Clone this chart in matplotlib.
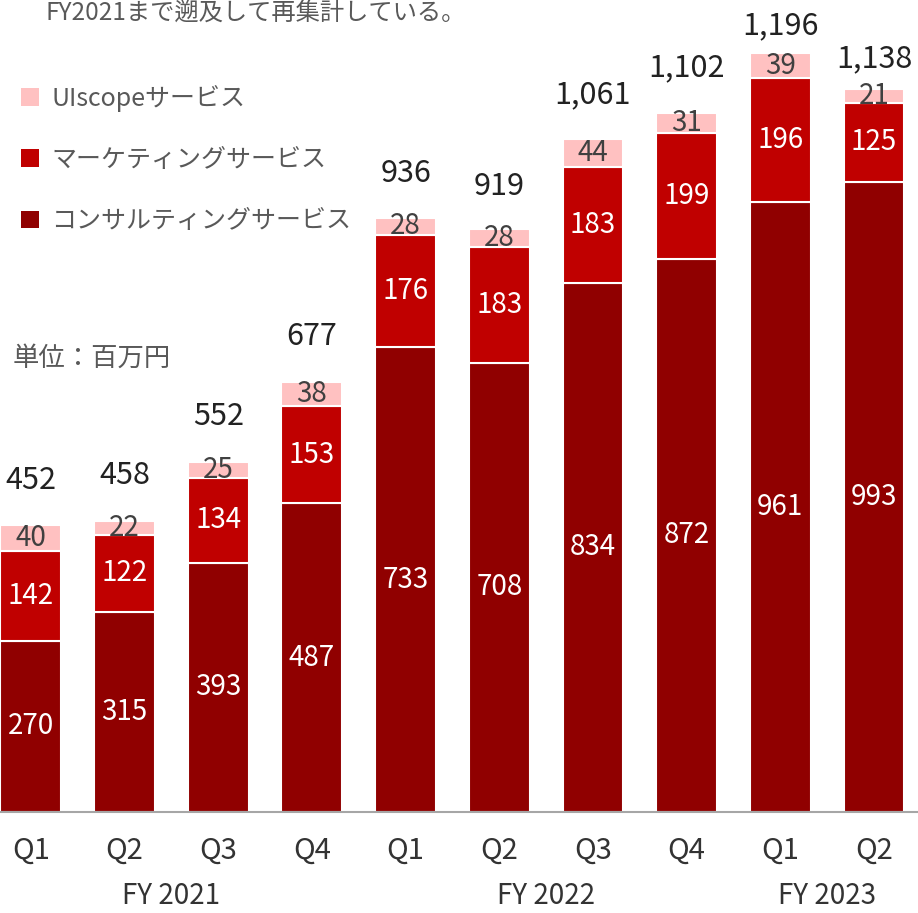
import numpy as np
import matplotlib
matplotlib.use("Agg")
import matplotlib.pyplot as plt
from matplotlib.patches import Patch

plt.rcParams['font.family'] = ['Noto Sans CJK JP', 'DejaVu Sans']

# data
quarters = ['Q1', 'Q2', 'Q3', 'Q4', 'Q1', 'Q2', 'Q3', 'Q4', 'Q1', 'Q2']
fiscal_years = ['FY 2021', 'FY 2022', 'FY 2023']
fy_centers = [1.5, 5.5, 8.5]
consulting = [270, 315, 393, 487, 733, 708, 834, 872, 961, 993]
marketing = [142, 122, 134, 153, 176, 183, 183, 199, 196, 125]
uiscope = [40, 22, 25, 38, 28, 28, 44, 31, 39, 21]
totals = [452, 458, 552, 677, 936, 919, 1061, 1102, 1196, 1138]
series_names = ['コンサルティングサービス', 'マーケティングサービス', 'UIscopeサービス']

colors = ['#900000', '#C00000', '#FFC1C1']
label_colors = ['white', 'white', '#404040']
total_offsets = [45, 45, 45, 45, 44, 43, 44, 45, 28, 31]  # px above bar

fig = plt.figure(figsize=(9.18, 9.13), dpi=100)
ax = fig.add_axes([0, 101 / 913, 1, 812 / 913])
x = np.arange(len(quarters))
width = 0.65

bottom = np.zeros(len(x))
for vals, col, lc in zip([consulting, marketing, uiscope], colors, label_colors):
    vals = np.array(vals)
    ax.bar(x, vals, width, bottom=bottom, color=col, edgecolor='white', linewidth=1.5)
    for xi, b, v in zip(x, bottom, vals):
        ax.text(xi, b + v / 2, str(v), ha='center', va='center', color=lc, fontsize=20)
    bottom = bottom + vals

px = 1280 / 812
for xi, top, tot, off in zip(x, bottom, totals, total_offsets):
    ax.text(xi, top + off * px, f'{tot:,}', ha='center', va='center', color='#222222', fontsize=22)

ax.set_xlim(-0.33, 9.47)
ax.set_ylim(0, 1280)
for s in ['top', 'right', 'left']:
    ax.spines[s].set_visible(False)
ax.spines['bottom'].set_color('#a6a6a6')
ax.spines['bottom'].set_linewidth(1.5)
ax.set_yticks([])
ax.set_xticks(x)
ax.set_xticklabels(quarters, fontsize=21, color='#333333')
ax.tick_params(axis='x', length=0, pad=17)

for c, fy in zip(fy_centers, fiscal_years):
    ax.text(c, -84 * px, fy, ha='center', va='center', fontsize=20, color='#333333', clip_on=False)

handles = [Patch(facecolor=colors[i], edgecolor='none') for i in [2, 1, 0]]
labels = [series_names[i] for i in [2, 1, 0]]
ax.legend(handles, labels, loc='upper left', bbox_to_anchor=(0.012, 0.908), frameon=False,
          fontsize=18, labelcolor='#595959', handlelength=0.7, handleheight=0.7,
          handletextpad=0.5, labelspacing=1.41, borderaxespad=0)

fig.text(13 / 918, 1 - 358 / 913, '単位：百万円', ha='left', va='center', fontsize=19, color='#595959')
fig.text(45 / 918, 1 - 20 / 913, 'FY2021まで遡及して再集計している。', ha='left', va='baseline',
         fontsize=17.5, color='#595959')

fig.savefig('out.png', dpi=100)
